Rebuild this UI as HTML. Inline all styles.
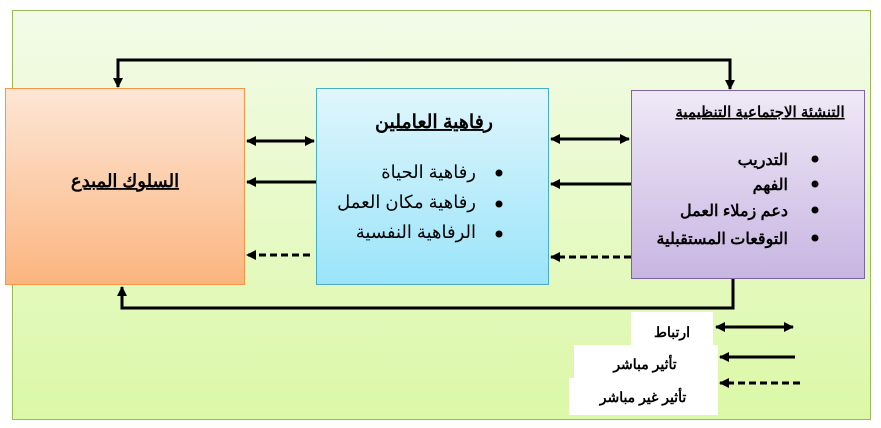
<!DOCTYPE html>
<html><head><meta charset="utf-8"><style>
html,body{margin:0;padding:0;background:#fff;width:881px;height:428px;overflow:hidden}
text{font-family:"Liberation Sans","Noto Sans CJK SC",sans-serif}
</style></head><body>
<svg width="881" height="428" viewBox="0 0 881 428" xmlns="http://www.w3.org/2000/svg">
<defs>
<linearGradient id="bg" x1="0" y1="0" x2="0" y2="1"><stop offset="0" stop-color="#f3fbe9"/><stop offset="1" stop-color="#dbf8a6"/></linearGradient>
<linearGradient id="or" x1="0" y1="0" x2="0" y2="1"><stop offset="0" stop-color="#fde6d6"/><stop offset="1" stop-color="#fbb57f"/></linearGradient>
<linearGradient id="bl" x1="0" y1="0" x2="0" y2="1"><stop offset="0" stop-color="#e0f6fc"/><stop offset="1" stop-color="#9ae4fa"/></linearGradient>
<linearGradient id="pu" x1="0" y1="0" x2="0" y2="1"><stop offset="0" stop-color="#efe9f6"/><stop offset="1" stop-color="#c8b5e2"/></linearGradient>
<marker id="ah" markerWidth="10" markerHeight="10" refX="9" refY="5" orient="auto" markerUnits="userSpaceOnUse"><path d="M0,0 L10,5 L0,10 Z" fill="#000"/></marker>
<marker id="as" markerWidth="10" markerHeight="10" refX="1" refY="5" orient="auto" markerUnits="userSpaceOnUse"><path d="M10,0 L0,5 L10,10 Z" fill="#000"/></marker>
</defs>
<rect x="12.5" y="10.5" width="858" height="409" fill="url(#bg)" stroke="#9bbb59" stroke-width="1"/>
<rect x="5.5" y="88.5" width="239" height="196" fill="url(#or)" stroke="#f79646"/>
<rect x="316.5" y="88.5" width="232" height="196" fill="url(#bl)" stroke="#4bacc6"/>
<rect x="631.5" y="90.5" width="233" height="188" fill="url(#pu)" stroke="#8064a2"/>
<g stroke="#000" stroke-width="3" fill="none">
<polyline points="118,87 118,60 730,60 730,89" marker-end="url(#ah)"/>
<line x1="118" y1="60" x2="118" y2="87" marker-end="url(#ah)"/>
<polyline points="733,279 733,308 122,308 122,287" marker-end="url(#ah)"/>
<line x1="247" y1="141" x2="314" y2="141" marker-end="url(#ah)" marker-start="url(#as)"/>
<line x1="316" y1="182" x2="247" y2="182" marker-end="url(#ah)"/>
<line x1="310" y1="255" x2="247" y2="255" marker-end="url(#ah)" stroke-dasharray="7,4"/>
<line x1="551" y1="139" x2="629" y2="139" marker-end="url(#ah)" marker-start="url(#as)"/>
<line x1="631" y1="184" x2="551" y2="184" marker-end="url(#ah)"/>
<line x1="631" y1="257" x2="551" y2="257" marker-end="url(#ah)" stroke-dasharray="7,4"/>
<line x1="716" y1="327" x2="793" y2="327" marker-end="url(#ah)" marker-start="url(#as)"/>
<line x1="795" y1="357" x2="720" y2="357" marker-end="url(#ah)"/>
<line x1="800" y1="383" x2="720" y2="383" marker-end="url(#ah)" stroke-dasharray="7,4"/>
</g>
<rect x="631" y="312" width="82" height="34" fill="#fff"/>
<rect x="574" y="345" width="144" height="34" fill="#fff"/>
<rect x="569" y="378" width="149" height="37" fill="#fff"/>
<g font-weight="bold" fill="#000" text-anchor="middle">
<text x="672" y="337" font-size="14">ارتباط</text>
<text x="645" y="369" font-size="14">تأثير مباشر</text>
<text x="643" y="402" font-size="14">تأثير غير مباشر</text>
<text x="125" y="187" font-size="18" text-decoration="underline">السلوك المبدع</text>
<text x="434" y="128" font-size="19" text-decoration="underline">رفاهية العاملين</text>
<text x="760" y="117" font-size="15" text-decoration="underline">التنشئة الاجتماعية التنظيمية</text>
</g>
<g fill="#000" font-size="18" text-anchor="end">
<text x="476" y="178">رفاهية الحياة</text>
<text x="476" y="208">رفاهية مكان العمل</text>
<text x="476" y="238">الرفاهية النفسية</text>
</g>
<g fill="#000"><circle cx="499" cy="173" r="3.5"/><circle cx="499" cy="204" r="3.5"/><circle cx="499" cy="234" r="3.5"/></g>
<g fill="#000" font-size="16" font-weight="bold" text-anchor="end">
<text x="788" y="165">التدريب</text>
<text x="788" y="190">الفهم</text>
<text x="788" y="216">دعم زملاء العمل</text>
<text x="788" y="244">التوقعات المستقبلية</text>
</g>
<g fill="#000"><circle cx="815" cy="159" r="3.5"/><circle cx="815" cy="184" r="3.5"/><circle cx="815" cy="210" r="3.5"/><circle cx="815" cy="238" r="3.5"/></g>
</svg>
</body></html>
